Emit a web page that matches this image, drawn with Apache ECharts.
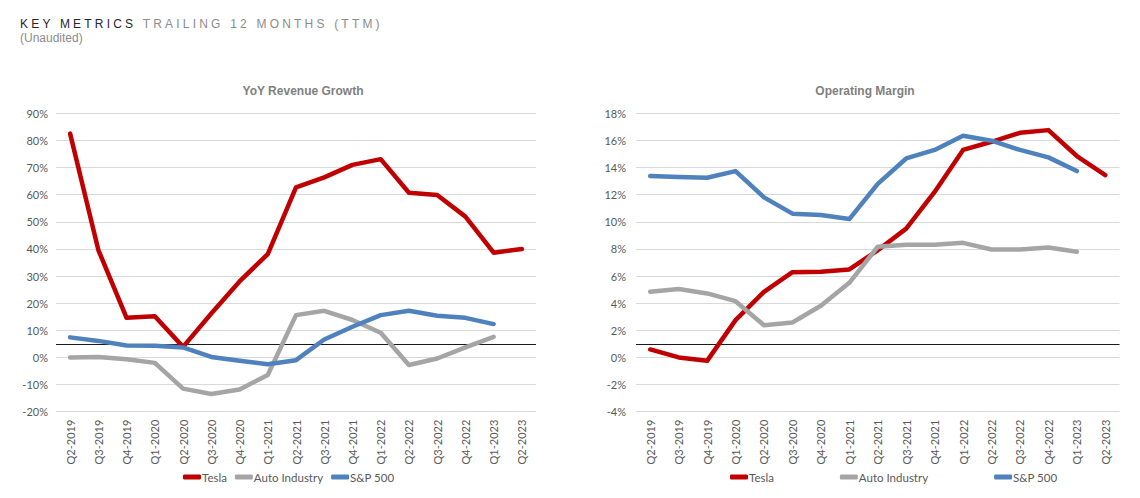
<!DOCTYPE html>
<html>
<head>
<meta charset="utf-8">
<script src="https://cdn.jsdelivr.net/npm/echarts@6/dist/echarts.min.js"></script>
<style>
  html, body { margin: 0; padding: 0; background: #ffffff; }
  #wrap { position: relative; width: 1140px; height: 498px; }
  #chart { position: absolute; left: 0; top: 0; width: 1140px; height: 498px; }
  #hdr { position: absolute; left: 20px; top: 17px; font-family: "Liberation Sans", Arial, sans-serif; font-size: 12px; line-height: 14px; z-index: 2; }
  #hdr .l1 { letter-spacing: 3.2px; white-space: nowrap; }
  #hdr .k { color: #262626; }
  #hdr .t { color: #8c8c8c; }
  #hdr .l2 { color: #8c8c8c; }
</style>
</head>
<body>
<div id="wrap">
  <div id="chart"></div>
  <div id="hdr"><div class="l1"><span class="k">KEY METRICS</span> <span class="t">TRAILING 12 MONTHS (TTM)</span></div><div class="l2">(Unaudited)</div></div>
</div>
<script>
const categories = ["Q2-2019","Q3-2019","Q4-2019","Q1-2020","Q2-2020","Q3-2020","Q4-2020","Q1-2021","Q2-2021","Q3-2021","Q4-2021","Q1-2022","Q2-2022","Q3-2022","Q4-2022","Q1-2023","Q2-2023"];

// YoY Revenue Growth (%)
const revTesla = [82.5, 39.6, 14.6, 15.2, 3.9, 16.2, 28.0, 38.1, 62.7, 66.4, 71.0, 73.1, 60.7, 59.9, 51.9, 38.6, 40.0];
const revAuto  = [0.0, 0.2, -0.7, -2.0, -11.5, -13.5, -11.8, -6.5, 15.6, 17.2, 13.8, 9.1, -2.8, -0.4, 3.7, 7.6, null];
const revSP    = [7.4, 6.1, 4.4, 4.3, 3.7, 0.2, -1.2, -2.5, -1.0, 6.6, 11.3, 15.6, 17.2, 15.4, 14.6, 12.3, null];

// Operating Margin (%)
const omTesla = [0.59, 0.0, -0.25, 2.75, 4.84, 6.29, 6.32, 6.49, 7.9, 9.5, 12.2, 15.3, 15.9, 16.56, 16.76, 14.85, 13.44];
const omAuto  = [4.84, 5.04, 4.72, 4.15, 2.38, 2.58, 3.81, 5.5, 8.16, 8.3, 8.31, 8.45, 7.96, 7.95, 8.1, 7.79, null];
const omSP    = [13.37, 13.3, 13.25, 13.74, 11.8, 10.6, 10.5, 10.2, 12.8, 14.67, 15.3, 16.35, 15.98, 15.3, 14.75, 13.74, null];

const refLines = [4.8, 0.96];
const seriesNames = ["Tesla", "Auto Industry", "S&P 500"];
const colors = ["#C00000", "#A5A5A5", "#4F81BD"];
const chartTitles = ["YoY Revenue Growth", "Operating Margin"];
const yRanges = [[-20, 90, 10], [-4, 18, 2]];

const axisFont = "Lato, 'Open Sans', sans-serif";
const chart = echarts.init(document.getElementById('chart'), null, {renderer: 'svg'});

function mkSeries(name, data, idx, color, grid, ref) {
  const s = {
    name: name, type: 'line', data: data,
    xAxisIndex: grid, yAxisIndex: grid,
    symbol: 'none', smooth: false, connectNulls: false,
    lineStyle: { color: color, width: 4.5, cap: 'round', join: 'round' },
    itemStyle: { color: color },
    z: 3 + idx
  };
  if (ref !== undefined) {
    s.markLine = {
      silent: true, symbol: 'none', label: { show: false },
      lineStyle: { color: '#1a1a1a', width: 1, type: 'solid' },
      data: [{ yAxis: ref }], z: 2, animation: false
    };
  }
  return s;
}

const titleStyle = { fontFamily: "'Liberation Sans', Arial, sans-serif", fontSize: 12, fontWeight: 'bold', color: '#7f7f7f' };
const legendText = { fontFamily: axisFont, fontSize: 11.5, color: '#595959', padding: [0, 0, 0, -4] };

const option = {
  animation: false,
  textStyle: { fontFamily: axisFont },
  title: [
    { text: chartTitles[0], left: 298, top: 80, textAlign: 'center', textStyle: titleStyle },
    { text: chartTitles[1], left: 860, top: 80, textAlign: 'center', textStyle: titleStyle }
  ],
  legend: [
    { data: seriesNames, left: 178, top: 466, itemWidth: 18, itemHeight: 5, itemGap: 8, icon: 'roundRect', textStyle: legendText },
    { data: seriesNames, left: 725, top: 466, itemWidth: 18, itemHeight: 5, itemGap: 66, icon: 'roundRect', textStyle: legendText }
  ],
  grid: [
    { left: 56, right: 604, top: 113.3, bottom: 86.3 },
    { left: 636, right: 20.5, top: 113.3, bottom: 86.3 }
  ],
  xAxis: [0, 1].map(i => ({
    type: 'category', gridIndex: i, data: categories, boundaryGap: true,
    axisLine: { show: false }, axisTick: { show: false },
    axisLabel: { rotate: 90, margin: 8, fontSize: 11, color: '#595959', fontFamily: axisFont, interval: 0 }
  })),
  yAxis: [0, 1].map(i => ({
    type: 'value', gridIndex: i, min: yRanges[i][0], max: yRanges[i][1], interval: yRanges[i][2],
    axisLine: { show: false }, axisTick: { show: false },
    axisLabel: { formatter: '{value}%', fontSize: 11, color: '#595959', margin: i === 0 ? 8 : 10, fontFamily: axisFont },
    splitLine: { lineStyle: { color: '#D9D9D9', width: 1 } }
  })),
  series: [
    mkSeries(seriesNames[0], revTesla, 0, colors[0], 0, refLines[0]),
    mkSeries(seriesNames[1], revAuto, 1, colors[1], 0),
    mkSeries(seriesNames[2], revSP, 2, colors[2], 0),
    mkSeries(seriesNames[0], omTesla, 0, colors[0], 1, refLines[1]),
    mkSeries(seriesNames[1], omAuto, 1, colors[1], 1),
    mkSeries(seriesNames[2], omSP, 2, colors[2], 1)
  ]
};
chart.setOption(option);
</script>
</body>
</html>
